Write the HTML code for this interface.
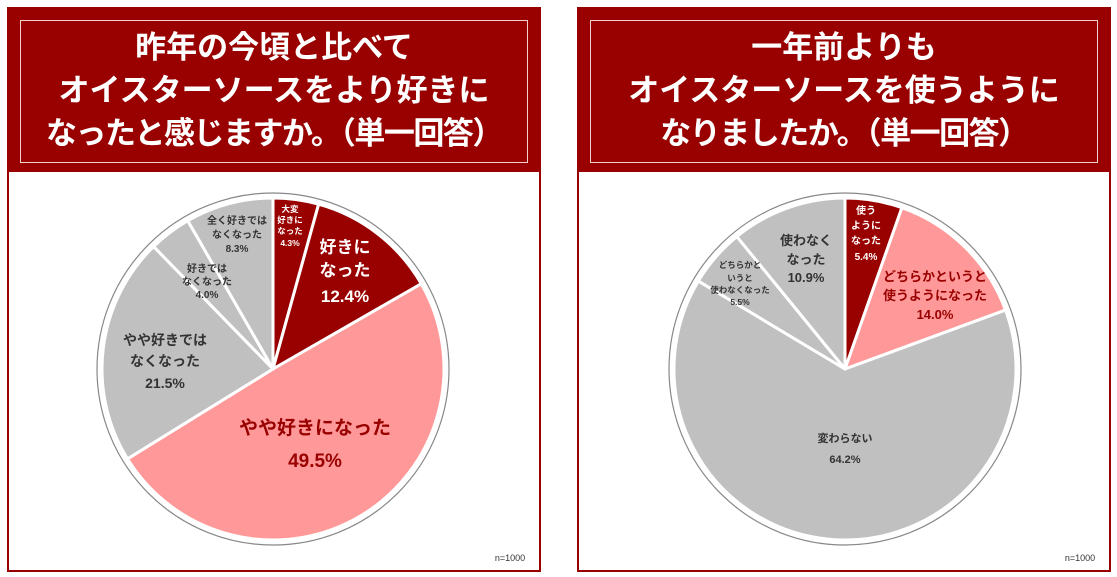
<!DOCTYPE html>
<html><head><meta charset="utf-8"><style>
body{margin:0;background:#fff;width:1117px;height:577px;overflow:hidden;font-family:"Liberation Sans","Noto Sans CJK JP",sans-serif}
.panel{position:absolute;top:7px;width:534px;height:565px;border:2px solid #990000;box-sizing:border-box;background:#fff}
.hdr{position:absolute;left:0;top:0;right:0;height:163px;background:#990000}
.inner{position:absolute;left:11px;top:11px;right:11px;bottom:9px;border:1px solid #f2d0d0;color:#fff;font-weight:bold;font-size:31px;line-height:43px;text-align:center;padding-top:5px;box-sizing:border-box;white-space:nowrap}
.l3{letter-spacing:-1.5px}
svg{position:absolute;left:0;top:0}
</style></head><body>
<div class="panel" style="left:7px">
 <div class="hdr"><div class="inner">昨年の今頃と比べて<br>オイスターソースをより好きに<br><span class="l3">なったと感じますか。（単一回答）</span></div></div>
</div>
<div class="panel" style="left:577px">
 <div class="hdr"><div class="inner">一年前よりも<br>オイスターソースを使うように<br><span class="l3">なりましたか。（単一回答）</span></div></div>
</div>
<svg id="chart" width="1117" height="577"></svg>
<script>
const leftValues=[4.3,12.4,49.5,21.5,4.0,8.3];
const leftColors=["#990000","#990000","#ff9999","#c0c0c0","#c0c0c0","#c0c0c0"];
const rightValues=[5.4,14.0,64.2,5.5,10.9];
const rightColors=["#990000","#ff9999","#c0c0c0","#c0c0c0","#c0c0c0"];
const leftLabels=[
 {x:290,y:[212,223,234,246],t:["大変","好きに","なった","4.3%"],s:8.5,c:"#fff"},
 {x:345,y:[253,276,302],t:["好きに","なった","12.4%"],s:17,c:"#fff"},
 {x:315,y:[434,467],t:["やや好きになった","49.5%"],s:19,c:"#990000"},
 {x:165,y:[345,366,388],t:["やや好きでは","なくなった","21.5%"],s:14,c:"#333"},
 {x:207,y:[272,285,298],t:["好きでは","なくなった","4.0%"],s:10,c:"#333"},
 {x:237,y:[224,238,252],t:["全く好きでは","なくなった","8.3%"],s:10,c:"#333"}];
const rightLabels=[
 {x:866,y:[214,229,244,260],t:["使う","ように","なった","5.4%"],s:10,c:"#fff"},
 {x:935,y:[281,300,319],t:["どちらかというと","使うようになった","14.0%"],s:13,c:"#990000"},
 {x:845,y:[442,463],t:["変わらない","64.2%"],s:11,c:"#333"},
 {x:740,y:[268,281,293,305],t:["どちらかと","いうと","使わなくなった","5.5%"],s:8.5,c:"#333"},
 {x:806,y:[245,264,282],t:["使わなく","なった","10.9%"],s:13,c:"#333"}];
const NS="http://www.w3.org/2000/svg";
const svg=document.getElementById('chart');
function mk(tag,attrs){const e=document.createElementNS(NS,tag);for(const k in attrs)e.setAttribute(k,attrs[k]);svg.appendChild(e);return e;}
function pie(cx,cy,r,vals,cols,labels,side){
 const o=mk('circle',{cx:cx,cy:cy,r:r+5,fill:'none',stroke:'#888','stroke-width':1.2});
 
 
 const tot=vals.reduce((a,b)=>a+b,0);let a=0;
 vals.forEach((v,i)=>{
  const a0=a/tot*2*Math.PI,a1=(a+v)/tot*2*Math.PI;a+=v;
  const x0=cx+r*Math.sin(a0),y0=cy-r*Math.cos(a0),x1=cx+r*Math.sin(a1),y1=cy-r*Math.cos(a1);
  const p=mk('path',{d:`M${cx},${cy}L${x0},${y0}A${r},${r} 0 ${a1-a0>Math.PI?1:0} 1 ${x1},${y1}Z`,fill:cols[i],stroke:'#fff','stroke-width':3,'stroke-linejoin':'round'});
  
  
 });
 labels.forEach((L,i)=>{L.t.forEach((s,j)=>{
  const t=mk('text',{x:L.x,y:L.y[j],'text-anchor':'middle','font-size':L.s,'font-weight':'bold',fill:L.c});
  t.textContent=s;
  
  
 });});
}
pie(273,369,171,leftValues,leftColors,leftLabels,'left');
pie(845,369,171,rightValues,rightColors,rightLabels,'right');
[[510,'left'],[1080,'right']].forEach(([x,s])=>{
 const t=mk('text',{x:x,y:561,'text-anchor':'middle','font-size':9,fill:'#333'});
 t.textContent='n=1000';
 
 
});
</script>
</body></html>
